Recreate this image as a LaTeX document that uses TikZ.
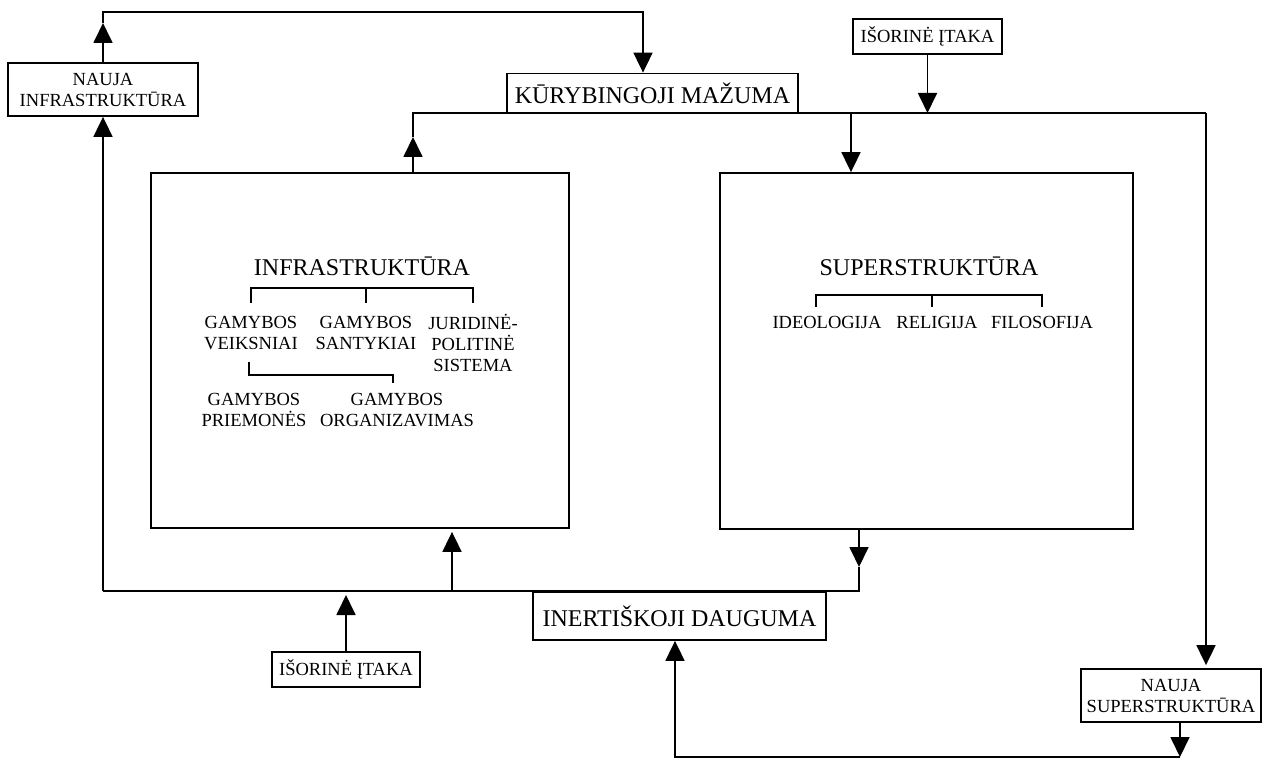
\documentclass[tikz,border=0pt]{standalone}
\usepackage{fontspec}
\setmainfont{Liberation Serif}
\usetikzlibrary{arrows.meta}
\newcommand\myBig{\fontsize{24}{28}\selectfont}
\newcommand\mySmall{\fontsize{18.5}{21}\selectfont}
\begin{document}
\begin{tikzpicture}[x=1pt,y=-1pt,
  ln/.style={line width=1.8pt},
  thin/.style={line width=1.4pt},
  arr/.style={line width=1.8pt,-{Triangle[length=20pt,width=19pt]}},
  box/.style={draw,line width=1.8pt,inner sep=0pt,align=center},
  sm/.style={inner sep=0pt,align=center,font=\mySmall},
  bg/.style={inner sep=0pt,align=center,font=\myBig}]
\useasboundingbox (0,0) rectangle (1262,762);
\fill[white] (0,0) rectangle (1262,762);
% boxes
\node[box,minimum width=190pt,minimum height=53pt,font=\mySmall] (ninf) at (103,89.5) {NAUJA\\INFRASTRUKTŪRA};
\node[box,minimum width=291pt,minimum height=40pt,font=\myBig] (kur) at (652.5,93.5) {KŪRYBINGOJI MAŽUMA};
\node[box,minimum width=149pt,minimum height=35pt,font=\mySmall] (isor1) at (927.5,36.5) {IŠORINĖ ĮTAKA};
\node[box,minimum width=418pt,minimum height=355pt] (infra) at (360,350.5) {};
\node[box,minimum width=413pt,minimum height=356pt] (super) at (926.5,351) {};
\node[box,minimum width=293pt,minimum height=48pt,font=\myBig] (inert) at (679.5,616) {INERTIŠKOJI DAUGUMA};
\node[box,minimum width=148pt,minimum height=35pt,font=\mySmall] (isor2) at (346,669.5) {IŠORINĖ ĮTAKA};
\node[box,minimum width=180pt,minimum height=53pt,font=\mySmall] (nsup) at (1171,695.5) {NAUJA\\SUPERSTRUKTŪRA};
% coordinates
\coordinate (tl) at (103,12);
\coordinate (tr) at (643,12);
\coordinate (a1) at (103,23);
\coordinate (ml) at (413,113);
\coordinate (mr) at (1206,113);
\coordinate (a2) at (413,137);
\coordinate (sx) at (851,113);
\coordinate (bl) at (103,591);
\coordinate (bx) at (859,591);
\coordinate (a3) at (859,567);
\coordinate (ix) at (452,591);
\coordinate (ox) at (346,591);
\coordinate (br) at (1180,757);
\coordinate (bm) at (675,757);
% connectors
\draw[arr] (ninf.north) -- (a1);
\draw[arr] (a1) -- (tl) -- (tr) -- (kur.north -| tr);
\draw[arr] (bl) -- (ninf.south);
\draw[arr] (infra.north -| ml) -- (a2);
\draw[ln] (a2) -- (ml) -- (mr);
\draw[arr] (sx) -- (super.north -| sx);
\draw[arr] (isor1.south) -- (isor1.south |- ml);
\draw[arr,shorten >=3pt] (mr) -- (nsup.north -| mr);
\draw[arr] (super.south -| a3) -- (a3);
\draw[ln] (a3) -- (bx) -- (bl);
\draw[arr,shorten >=3pt] (ix) -- (infra.south -| ix);
\draw[arr,shorten >=4pt] (isor2.north) -- (ox);
\draw[arr] (nsup.south -| br) -- (br);
\draw[arr] (br) -- (bm) -- (inert.south -| bm);
% infrastructure contents
\node[bg] (infh) at (362,266) {INFRASTRUKTŪRA};
\node[sm] (gv) at (251,333) {GAMYBOS\\VEIKSNIAI};
\node[sm] (gs) at (366,333) {GAMYBOS\\SANTYKIAI};
\node[sm] (jp) at (473,343) {JURIDINĖ-\\POLITINĖ\\SISTEMA};
\node[sm] (gp) at (254,410) {GAMYBOS\\PRIEMONĖS};
\node[sm] (go) at (397,410) {GAMYBOS\\ORGANIZAVIMAS};
\draw[thin] (gv.north |- 0,303) -- (gv.north |- 0,288) -- (jp.north |- 0,288) -- (jp.north |- 0,303);
\draw[thin] (gs.north |- 0,288) -- (gs.north |- 0,303);
\draw[thin] (249,362) -- (249,375) -- (393,375) -- (393,383);
% superstructure contents
\node[bg] (suph) at (929,266) {SUPERSTRUKTŪRA};
\node[sm] (ide) at (827,322) {IDEOLOGIJA};
\node[sm] (rel) at (937,322) {RELIGIJA};
\node[sm] (fil) at (1042,322) {FILOSOFIJA};
\draw[thin] (816,307) -- (816,295) -- (1042,295) -- (1042,307);
\draw[thin] (932,295) -- (932,307);
\end{tikzpicture}
\end{document}
